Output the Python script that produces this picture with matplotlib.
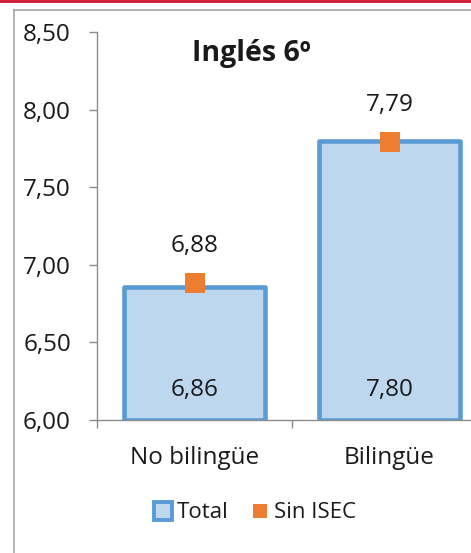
import matplotlib

matplotlib.use("Agg")
import matplotlib.pyplot as plt
from matplotlib.lines import Line2D
from matplotlib.patches import Rectangle
from matplotlib.ticker import FixedLocator, FuncFormatter

plt.rcParams["font.family"] = ["Open Sans", "DejaVu Sans"]

categories = ["No bilingüe", "Bilingüe"]
total = [6.86, 7.80]
sin_isec = [6.88, 7.79]
yticks = [6.0, 6.5, 7.0, 7.5, 8.0, 8.5]
title = "Inglés 6º"

BAR_FACE = "#BDD7EE"
BAR_EDGE = "#5B9BD5"
ORANGE = "#ED7D31"
TEXT = "#1a1a1a"
AXIS = "#8c8c8c"

W, H = 471, 553
fig = plt.figure(figsize=(W / 100, H / 100), dpi=100)

# red strip at the very top and the grey frame of the chart object
fig.patches.append(Rectangle((0, 1 - 3 / H), 1, 3 / H, transform=fig.transFigure,
                             color="#D4213D", lw=0))
fig.add_artist(Line2D([14 / W, 14 / W], [1 - 10 / H, 0], transform=fig.transFigure,
                      color="#a6a6a6", lw=1.2))
fig.add_artist(Line2D([14 / W, 1], [1 - 10 / H, 1 - 10 / H], transform=fig.transFigure,
                      color="#a6a6a6", lw=1.2))

# plot area runs past the right edge (reference is cropped there)
ax = fig.add_axes([97 / W, 1 - 420 / H, 390 / W, 388 / H])

x = list(range(len(categories)))
ax.bar(x, [t - 6.0 for t in total], bottom=6.0, width=0.72, color=BAR_FACE,
       edgecolor=BAR_EDGE, linewidth=3.3, joinstyle="round", zorder=2)
ax.plot(x, sin_isec, "s", color=ORANGE, ms=15, mec=ORANGE, mew=0, zorder=3)

for xi, t, s in zip(x, total, sin_isec):
    ax.annotate(f"{t:.2f}".replace(".", ","), (xi, 6.0), xytext=(0, 21.5),
                textcoords="offset points", ha="center", va="center",
                fontsize=17.5, color=TEXT, zorder=4)
    ax.annotate(f"{s:.2f}".replace(".", ","), (xi, s), xytext=(0, 27),
                textcoords="offset points", ha="center", va="center",
                fontsize=17.5, color=TEXT, zorder=4)

ax.set_xlim(-0.5, 1.5)
ax.set_ylim(6.0, 8.5)
ax.set_yticks(yticks)
ax.yaxis.set_major_formatter(FuncFormatter(lambda v, p: f"{v:.2f}".replace(".", ",")))
ax.set_xticks(x)
ax.set_xticklabels(categories)
ax.xaxis.set_minor_locator(FixedLocator([-0.5, 0.5, 1.5]))

for side in ("top", "right"):
    ax.spines[side].set_visible(False)
for side in ("left", "bottom"):
    ax.spines[side].set_color(AXIS)
    ax.spines[side].set_linewidth(1.0)

ax.tick_params(axis="y", length=5.8, width=1.0, color=AXIS, pad=13,
               labelsize=17.5, labelcolor=TEXT)
ax.tick_params(axis="x", which="major", length=0, pad=18.5,
               labelsize=17.5, labelcolor=TEXT)
ax.tick_params(axis="x", which="minor", length=5.8, width=1.0, color=AXIS)

fig.text(251 / W, 1 - 54 / H, title, ha="center", va="center",
         fontsize=20.5, fontweight="bold", color=TEXT)

handles = [
    Line2D([], [], ls="none", marker="s", ms=13, mfc=BAR_FACE, mec=BAR_EDGE, mew=2.8),
    Line2D([], [], ls="none", marker="s", ms=9.5, mfc=ORANGE, mec=ORANGE, mew=0),
]
fig.legend(handles, ["Total", "Sin ISEC"], loc="center", ncol=2,
           bbox_to_anchor=(255 / W, 1 - 513 / H), frameon=False, fontsize=16,
           handlelength=0.8, handletextpad=0.25, columnspacing=1.0,
           labelcolor=TEXT)

fig.savefig("out.png", dpi=100)
